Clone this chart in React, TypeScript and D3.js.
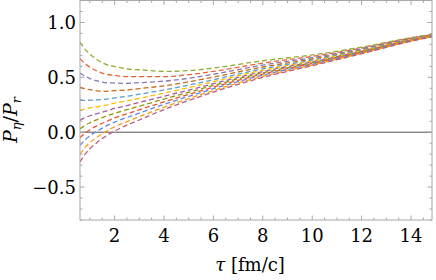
import React from "react";
import * as d3 from "d3";

// tau grid (fm/c)
const tau = [0.6, 0.8, 1, 1.3, 1.6, 2, 2.5, 3, 4, 5, 6, 8, 10, 12, 14, 14.85];

// P_eta / P_r for each initial condition, top to bottom at the left edge
const s1 = [0.82, 0.757, 0.711, 0.66, 0.622, 0.599, 0.576, 0.569, 0.554, 0.561, 0.584, 0.651, 0.704, 0.775, 0.861, 0.891];
const s2 = [0.67, 0.625, 0.592, 0.557, 0.531, 0.518, 0.506, 0.506, 0.506, 0.524, 0.554, 0.63, 0.691, 0.767, 0.857, 0.888];
const s3 = [0.54, 0.51, 0.489, 0.467, 0.452, 0.448, 0.445, 0.451, 0.465, 0.491, 0.528, 0.612, 0.679, 0.76, 0.853, 0.885];
const s4 = [0.41, 0.396, 0.387, 0.377, 0.372, 0.378, 0.384, 0.397, 0.423, 0.459, 0.502, 0.594, 0.667, 0.752, 0.849, 0.883];
const s5 = [0.29, 0.29, 0.292, 0.294, 0.299, 0.313, 0.327, 0.346, 0.385, 0.429, 0.478, 0.577, 0.656, 0.746, 0.846, 0.88];
const s6 = [0.2, 0.211, 0.221, 0.232, 0.244, 0.265, 0.285, 0.309, 0.356, 0.406, 0.46, 0.565, 0.648, 0.741, 0.843, 0.879];
const s7 = [0.11, 0.132, 0.15, 0.17, 0.189, 0.216, 0.242, 0.271, 0.327, 0.384, 0.442, 0.552, 0.64, 0.736, 0.84, 0.877];
const s8 = [0.03, 0.061, 0.086, 0.115, 0.141, 0.173, 0.205, 0.237, 0.302, 0.364, 0.426, 0.541, 0.633, 0.732, 0.838, 0.875];
const s9 = [-0.05, -0.009, 0.023, 0.06, 0.092, 0.13, 0.167, 0.204, 0.276, 0.344, 0.41, 0.53, 0.626, 0.727, 0.835, 0.874];
const s10 = [-0.12, -0.071, -0.032, 0.011, 0.049, 0.092, 0.134, 0.174, 0.254, 0.326, 0.396, 0.52, 0.619, 0.723, 0.833, 0.872];
const s11 = [-0.2, -0.141, -0.095, -0.044, 0.0, 0.049, 0.097, 0.141, 0.228, 0.306, 0.38, 0.509, 0.612, 0.719, 0.831, 0.871];
const s12 = [-0.27, -0.203, -0.151, -0.092, -0.043, 0.011, 0.064, 0.111, 0.206, 0.289, 0.366, 0.499, 0.606, 0.715, 0.829, 0.869];

const series = [s1, s2, s3, s4, s5, s6, s7, s8, s9, s10, s11, s12];
const colors = ["#8FB032", "#EB6235", "#8778B3", "#C56E1A", "#5D9EC7", "#FFBF00",
  "#A5609D", "#929600", "#E95536", "#6685D9", "#F89F13", "#BC5B80"];

const xTicks = [2, 4, 6, 8, 10, 12, 14];
const yTicks = [-0.5, 0, 0.5, 1];

const W = 436, H = 280;
const left = 80, right = 432, top = 0.5, bottom = 220;
const font = "DejaVu Serif";
const frameColor = "#a8a8a8";

export default function App() {
  const x = d3.scaleLinear().domain([0.6, 14.85]).range([left, right]);
  const y = d3.scaleLinear().domain([-0.8, 1.2]).range([bottom, top]);

  const line = d3.line<number>()
    .x((d, i) => x(tau[i]))
    .y(d => y(d))
    .curve(d3.curveMonotoneX);

  const xMinor = d3.range(1, 15, 0.5).filter(v => v >= 0.6 && !xTicks.includes(v));
  const yMinor = d3.range(-0.8, 1.21, 0.1).map(v => Math.round(v * 10) / 10)
    .filter(v => !yTicks.includes(v));

  const fmtY = (v: number) => v < 0 ? "\u2212" + d3.format(".1f")(-v) : d3.format(".1f")(v);

  return (
    <svg width={W} height={H} style={{ position: "absolute", left: 0, top: 0, background: "#fff" }}>
      <defs>
        <clipPath id="plot">
          <rect x={left} y={top} width={right - left} height={bottom - top} />
        </clipPath>
      </defs>

      {/* zero line */}
      <line x1={left} x2={right} y1={y(0)} y2={y(0)} stroke="#555" strokeWidth={1} />

      <g clipPath="url(#plot)">
        {series.map((s, i) => (
          <path key={i} d={line(s) || ""} fill="none" stroke={colors[i]}
            strokeWidth={1.3} strokeDasharray="5,3" />
        ))}
      </g>

      {/* frame */}
      <rect x={left} y={top} width={right - left} height={bottom - top}
        fill="none" stroke={frameColor} strokeWidth={1} />

      {/* x ticks, bottom and top */}
      {xTicks.map(t => (
        <g key={"xt" + t}>
          <line x1={x(t)} x2={x(t)} y1={bottom} y2={bottom - 4.5} stroke={frameColor} />
          <line x1={x(t)} x2={x(t)} y1={top} y2={top + 4.5} stroke={frameColor} />
          <text x={x(t)} y={242} textAnchor="middle" style={{ fontFamily: font }} fontSize={18}>{t}</text>
        </g>
      ))}
      {xMinor.map(t => (
        <g key={"xm" + t}>
          <line x1={x(t)} x2={x(t)} y1={bottom} y2={bottom - 2.5} stroke={frameColor} />
          <line x1={x(t)} x2={x(t)} y1={top} y2={top + 2.5} stroke={frameColor} />
        </g>
      ))}

      {/* y ticks, left and right */}
      {yTicks.map(t => (
        <g key={"yt" + t}>
          <line x1={left} x2={left + 4.5} y1={y(t)} y2={y(t)} stroke={frameColor} />
          <line x1={right} x2={right - 4.5} y1={y(t)} y2={y(t)} stroke={frameColor} />
          <text x={76} y={y(t) + 6.5} textAnchor="end" style={{ fontFamily: font }} fontSize={18}>{fmtY(t)}</text>
        </g>
      ))}
      {yMinor.map(t => (
        <g key={"ym" + t}>
          <line x1={left} x2={left + 2.5} y1={y(t)} y2={y(t)} stroke={frameColor} />
          <line x1={right} x2={right - 2.5} y1={y(t)} y2={y(t)} stroke={frameColor} />
        </g>
      ))}

      {/* axis titles */}
      <text x={250} y={271} textAnchor="middle" style={{ fontFamily: font }} fontSize={18}>
        <tspan fontStyle="italic">τ</tspan> [fm/c]
      </text>
      <text transform="translate(17,120) rotate(-90)" textAnchor="middle" style={{ fontFamily: font }} fontSize={19}>
        <tspan fontStyle="italic">P</tspan>
        <tspan fontStyle="italic" fontSize={13} dy={4}>η</tspan>
        <tspan dy={-4}>/</tspan>
        <tspan fontStyle="italic">P</tspan>
        <tspan fontStyle="italic" fontSize={13} dy={4}>r</tspan>
      </text>
    </svg>
  );
}
